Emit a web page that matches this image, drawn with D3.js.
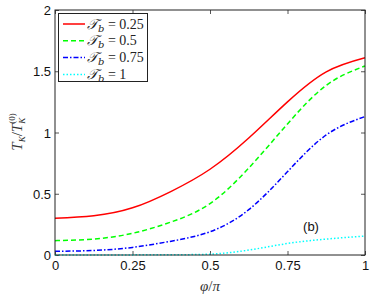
<!DOCTYPE html>
<html><head><meta charset="utf-8">
<script src="https://cdn.jsdelivr.net/npm/d3@7"></script>
<style>body{margin:0;background:#fff}</style>
</head><body>
<svg id="c" width="374" height="297"></svg>
<script>
const phi = [0, 0.125, 0.25, 0.375, 0.5, 0.625, 0.75, 0.875, 1];
const tb025 = [0.30, 0.32, 0.385, 0.52, 0.70, 0.955, 1.25, 1.495, 1.61];
const tb05  = [0.117, 0.13, 0.177, 0.27, 0.42, 0.71, 1.07, 1.385, 1.543];
const tb075 = [0.03, 0.037, 0.062, 0.113, 0.19, 0.37, 0.68, 0.98, 1.13];
const tb1   = [0, 0, 0.001, 0.003, 0.007, 0.04, 0.094, 0.13, 0.155];
const seriesNames = ["0.25", "0.5", "0.75", "1"];
const xTicks = [0, 0.25, 0.5, 0.75, 1];
const xTickLabels = ["0", "0.25", "0.5", "0.75", "1"];
const yTicks = [0, 0.5, 1, 1.5, 2];
const yTickLabels = ["0", "0.5", "1", "1.5", "2"];

const series = [
  {name: seriesNames[0], vals: tb025, color: "#ff0000", dash: null},
  {name: seriesNames[1], vals: tb05, color: "#00ff00", dash: "5,3"},
  {name: seriesNames[2], vals: tb075, color: "#0000ff", dash: "5,2,1.5,2"},
  {name: seriesNames[3], vals: tb1, color: "#00ffff", dash: "1.5,2"}
];

const svg = d3.select("#c");
const L = 55, R = 365, T = 10, B = 255;
const x = d3.scaleLinear().domain([0, 1]).range([L, R]);
const y = d3.scaleLinear().domain([0, 2]).range([B, T]);

const axColor = "#222";
const tickFont = "Liberation Sans, Arial, sans-serif";

// axes
const gx = svg.append("g").attr("transform", `translate(0,${B})`)
  .call(d3.axisBottom(x).tickValues(xTicks).tickFormat((d,i)=>xTickLabels[i]).tickSizeInner(-4).tickSizeOuter(0).tickPadding(6));
const gxt = svg.append("g").attr("transform", `translate(0,${T})`)
  .call(d3.axisTop(x).tickValues(xTicks).tickFormat("").tickSizeInner(-4).tickSizeOuter(0));
const gy = svg.append("g").attr("transform", `translate(${L},0)`)
  .call(d3.axisLeft(y).tickValues(yTicks).tickFormat((d,i)=>yTickLabels[i]).tickSizeInner(-4).tickSizeOuter(0).tickPadding(4));
const gyr = svg.append("g").attr("transform", `translate(${R},0)`)
  .call(d3.axisRight(y).tickValues(yTicks).tickFormat("").tickSizeInner(-4).tickSizeOuter(0));
[gx, gxt, gy, gyr].forEach(g => {
  g.select(".domain").remove();
  g.selectAll("line").attr("stroke", "#555");
  g.selectAll("text").attr("font-family", tickFont).attr("font-size", 13).attr("fill", "#111");
});
gy.selectAll(".tick text").attr("dy", "0.36em");

// curves
const line = d3.line().x((d,i)=>x(phi[i])).y(d=>y(d)).curve(d3.curveNatural);
series.forEach(s => {
  svg.append("path").attr("d", line(s.vals)).attr("fill", "none")
    .attr("stroke", s.color).attr("stroke-width", 1.5)
    .attr("stroke-dasharray", s.dash);
});

// frame
svg.append("rect").attr("x", L).attr("y", T).attr("width", R-L).attr("height", B-T)
  .attr("fill", "none").attr("stroke", axColor).attr("stroke-width", 1);

// legend
const lg = svg.append("g");
lg.append("rect").attr("x", 58.5).attr("y", 13.5).attr("width", 89).attr("height", 68)
  .attr("fill", "#fff").attr("stroke", axColor).attr("stroke-width", 1);
series.forEach((s, i) => {
  const yy = 24 + i * 16.8;
  lg.append("line").attr("x1", 63).attr("x2", 85).attr("y1", yy).attr("y2", yy)
    .attr("stroke", s.color).attr("stroke-width", 1.5).attr("stroke-dasharray", s.dash);
  const t = lg.append("text").attr("x", 87).attr("y", yy + 4.5)
    .attr("font-family", "DejaVu Serif, Liberation Serif, serif").attr("font-size", 14).attr("fill", "#222");
  t.append("tspan").attr("font-style", "italic").text("𝒯");
  t.append("tspan").attr("font-style", "italic").attr("font-size", 10).attr("dy", 3).text("b");
  t.append("tspan").attr("dy", -3).attr("font-family", "Liberation Serif, serif").text(" = " + s.name);
});

// (b)
svg.append("text").attr("x", 311).attr("y", 231).attr("text-anchor", "middle")
  .attr("font-family", tickFont).attr("font-size", 13).attr("fill", "#111").text("(b)");

// x label
const xl = svg.append("text").attr("x", 210).attr("y", 291).attr("text-anchor", "middle")
  .attr("font-family", "Liberation Serif, serif").attr("font-size", 15).attr("font-style", "italic").attr("fill", "#333");
xl.append("tspan").text("φ");
xl.append("tspan").attr("font-style", "normal").text("/");
xl.append("tspan").text("π");

// y label
const yl = svg.append("text").attr("transform", "translate(22,132) rotate(-90)").attr("text-anchor", "middle")
  .attr("font-family", "Liberation Serif, serif").attr("font-size", 15).attr("font-style", "italic").attr("fill", "#333");
yl.append("tspan").text("T");
yl.append("tspan").attr("font-size", 9).attr("dy", 3).text("K");
yl.append("tspan").attr("dy", -3).attr("font-style", "normal").text("/");
yl.append("tspan").text("T");
yl.append("tspan").attr("font-size", 9).attr("dy", 3).text("K");
yl.append("tspan").attr("font-size", 9).attr("font-style", "normal").attr("dx", -6).attr("dy", -10).text("(0)");
</script>
</body></html>
